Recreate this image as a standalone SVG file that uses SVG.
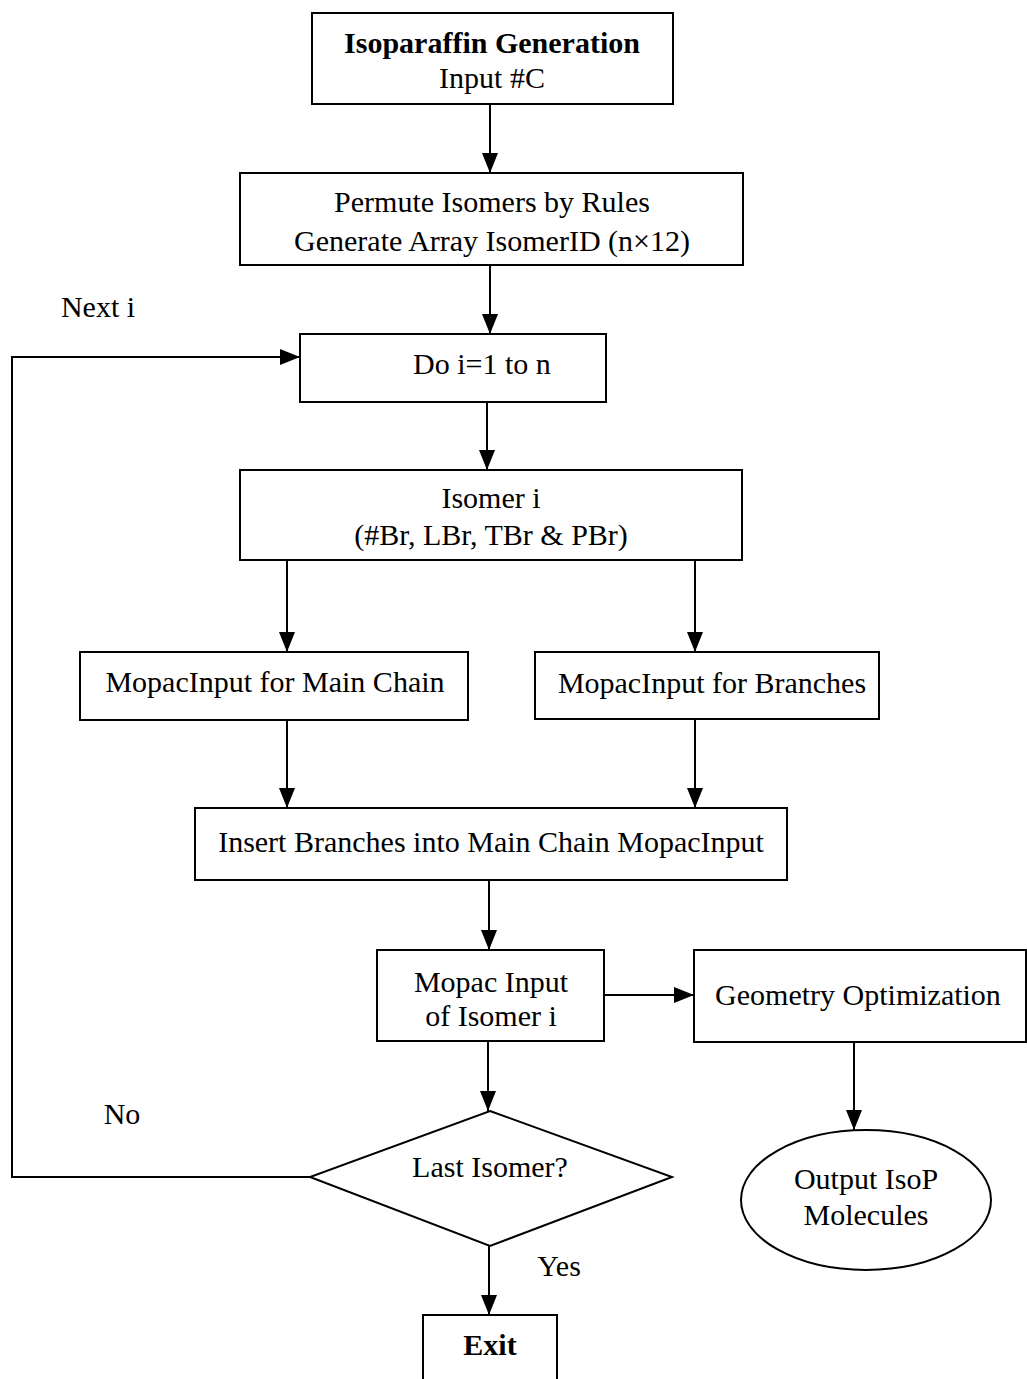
<svg xmlns="http://www.w3.org/2000/svg" width="1027" height="1379" viewBox="0 0 1027 1379">
<style>
.b{fill:#fff;stroke:#000;stroke-width:2}
.t{font-family:"Liberation Serif","Times New Roman",serif;font-size:30px;fill:#000;text-anchor:middle}
.bd{font-weight:bold}
.c{fill:none;stroke:#000;stroke-width:2}
</style>
<defs>
<marker id="ah" markerWidth="20" markerHeight="16" viewBox="0 0 20 16" refX="20" refY="8" orient="auto" markerUnits="userSpaceOnUse">
<path d="M0,0 L20,8 L0,16 Z" fill="#000"/>
</marker>
</defs>
<rect width="1027" height="1379" fill="#fff"/>
<g id="connectors">
<line class="c" x1="490" y1="104" x2="490" y2="173" marker-end="url(#ah)"/>
<line class="c" x1="490" y1="265" x2="490" y2="334" marker-end="url(#ah)"/>
<polyline class="c" points="310,1177 12,1177 12,357 300,357" marker-end="url(#ah)"/>
<line class="c" x1="487" y1="402" x2="487" y2="470" marker-end="url(#ah)"/>
<line class="c" x1="287" y1="560" x2="287" y2="652" marker-end="url(#ah)"/>
<line class="c" x1="695" y1="560" x2="695" y2="652" marker-end="url(#ah)"/>
<line class="c" x1="287" y1="720" x2="287" y2="808" marker-end="url(#ah)"/>
<line class="c" x1="695" y1="719" x2="695" y2="808" marker-end="url(#ah)"/>
<line class="c" x1="489" y1="880" x2="489" y2="950" marker-end="url(#ah)"/>
<line class="c" x1="604" y1="995" x2="694" y2="995" marker-end="url(#ah)"/>
<line class="c" x1="854" y1="1042" x2="854" y2="1130" marker-end="url(#ah)"/>
<line class="c" x1="488" y1="1041" x2="488" y2="1111" marker-end="url(#ah)"/>
<line class="c" x1="489" y1="1246" x2="489" y2="1315" marker-end="url(#ah)"/>
<text class="t" x="98" y="317">Next i</text>
<text class="t" x="122" y="1124">No</text>
<text class="t" x="559" y="1276">Yes</text>
</g>
<g id="n1"><rect class="b" x="312" y="13" width="361" height="91"/>
<text class="t bd" x="492" y="53">Isoparaffin Generation</text>
<text class="t" x="492" y="88">Input #C</text></g>
<g id="n2"><rect class="b" x="240" y="173" width="503" height="92"/>
<text class="t" x="492" y="212">Permute Isomers by Rules</text>
<text class="t" x="492" y="251">Generate Array IsomerID (n×12)</text></g>
<g id="n3"><rect class="b" x="300" y="334" width="306" height="68"/>
<text class="t" x="482" y="374">Do i=1 to n</text></g>
<g id="n4"><rect class="b" x="240" y="470" width="502" height="90"/>
<text class="t" x="491" y="508">Isomer i</text>
<text class="t" x="491" y="545">(#Br, LBr, TBr &amp; PBr)</text></g>
<g id="n5"><rect class="b" x="80" y="652" width="388" height="68"/>
<text class="t" x="275" y="692">MopacInput for Main Chain</text></g>
<g id="n6"><rect class="b" x="535" y="652" width="344" height="67"/>
<text class="t" x="712" y="693">MopacInput for Branches</text></g>
<g id="n7"><rect class="b" x="195" y="808" width="592" height="72"/>
<text class="t" x="491" y="852">Insert Branches into Main Chain MopacInput</text></g>
<g id="n8"><rect class="b" x="377" y="950" width="227" height="91"/>
<text class="t" x="491" y="992">Mopac Input</text>
<text class="t" x="491" y="1026">of Isomer i</text></g>
<g id="n9"><rect class="b" x="694" y="950" width="332" height="92"/>
<text class="t" x="858" y="1005">Geometry Optimization</text></g>
<g id="n10"><ellipse class="b" cx="866" cy="1200" rx="125" ry="70"/>
<text class="t" x="866" y="1189">Output IsoP</text>
<text class="t" x="866" y="1225">Molecules</text></g>
<g id="n11"><polygon class="b" points="490,1111 672,1177 490,1246 310,1177"/>
<text class="t" x="490" y="1177">Last Isomer?</text></g>
<g id="n12"><rect class="b" x="423" y="1315" width="134" height="80"/>
<text class="t bd" x="490" y="1355">Exit</text></g>
</svg>
